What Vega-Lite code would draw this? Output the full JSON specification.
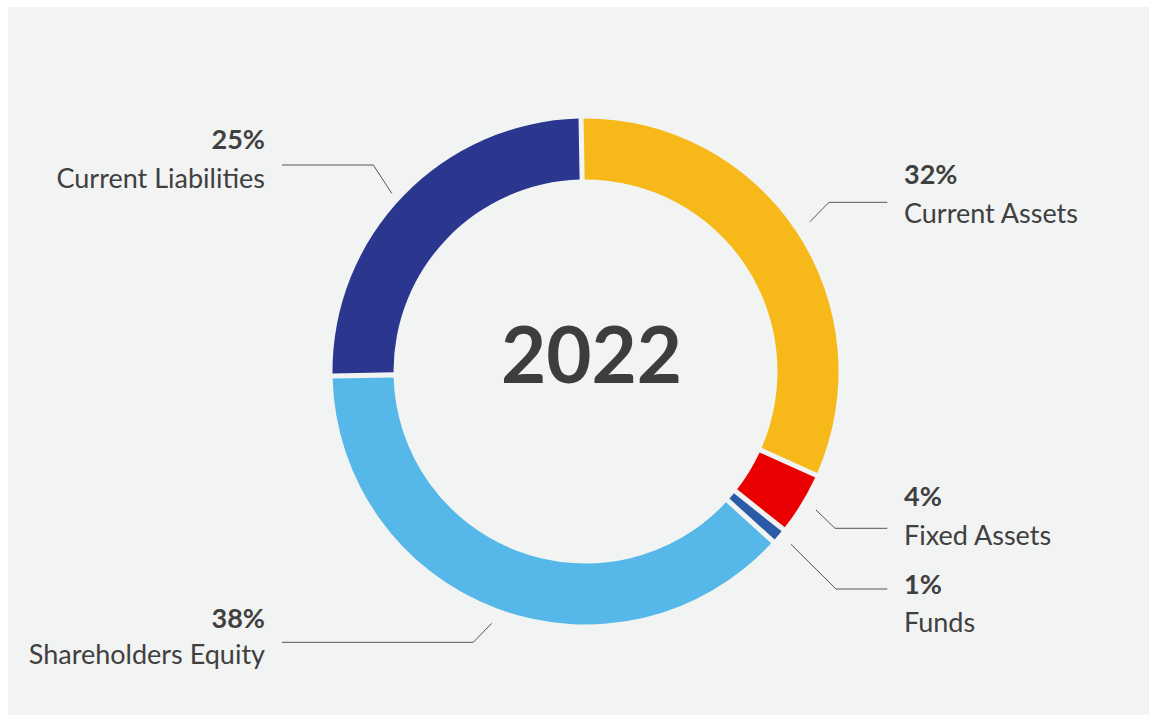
{
  "$schema": "https://vega.github.io/schema/vega-lite/v6.json",
  "width": 1141,
  "height": 708,
  "autosize": {"type": "none"},
  "padding": {"left": 8, "top": 7, "right": 0, "bottom": 0},
  "background": "#ffffff",
  "config": {"view": {"stroke": null, "fill": "#f2f3f3"}},
  "datasets": {
    "segments": [
      {"category": "Current Assets", "value": 32, "order": 1, "pct": "32%", "lx": 318.5, "py": 187.5, "ny": 148.8, "side": "right"},
      {"category": "Fixed Assets", "value": 4, "order": 2, "pct": "4%", "lx": 318.5, "py": -134.2, "ny": -173.5, "side": "right"},
      {"category": "Funds", "value": 1, "order": 3, "pct": "1%", "lx": 318.5, "py": -222.5, "ny": -260.2, "side": "right"},
      {"category": "Shareholders Equity", "value": 38, "order": 4, "pct": "38%", "lx": -320.5, "py": -256.8, "ny": -292.5, "side": "left"},
      {"category": "Current Liabilities", "value": 25, "order": 5, "pct": "25%", "lx": -320.5, "py": 222.5, "ny": 183.5, "side": "left"}
    ],
    "leaders": [
      {"category": "Current Liabilities", "i": 1, "x": -303.5, "y": 206.5},
      {"category": "Current Liabilities", "i": 2, "x": -212.2, "y": 206.5},
      {"category": "Current Liabilities", "i": 3, "x": -193.8, "y": 178.2},
      {"category": "Current Assets", "i": 1, "x": 224.5, "y": 149.8},
      {"category": "Current Assets", "i": 2, "x": 243.5, "y": 169.2},
      {"category": "Current Assets", "i": 3, "x": 301.8, "y": 169.2},
      {"category": "Fixed Assets", "i": 1, "x": 230.5, "y": -138.5},
      {"category": "Fixed Assets", "i": 2, "x": 249.5, "y": -156.8},
      {"category": "Fixed Assets", "i": 3, "x": 301.8, "y": -156.8},
      {"category": "Funds", "i": 1, "x": 205.5, "y": -172.8},
      {"category": "Funds", "i": 2, "x": 250.5, "y": -217.5},
      {"category": "Funds", "i": 3, "x": 301.8, "y": -217.5},
      {"category": "Shareholders Equity", "i": 1, "x": -93.8, "y": -251.8},
      {"category": "Shareholders Equity", "i": 2, "x": -112.2, "y": -270.8},
      {"category": "Shareholders Equity", "i": 3, "x": -303.5, "y": -270.8}
    ],
    "center": [{"year": "2022", "x": 6, "y": -11}]
  },
  "layer": [
    {
      "data": {"name": "segments"},
      "mark": {"type": "arc", "innerRadius": 192, "outerRadius": 253, "padAngle": 0.016},
      "encoding": {
        "x": {"datum": 0, "type": "quantitative", "scale": {"domain": [-577.5, 563.5], "nice": false, "zero": false}, "axis": null},
        "y": {"datum": 0, "type": "quantitative", "scale": {"domain": [-343.5, 364.5], "nice": false, "zero": false}, "axis": null},
        "theta": {"field": "value", "type": "quantitative", "stack": true, "scale": {"range": [-0.0175, 6.2657]}},
        "order": {"field": "order", "type": "quantitative", "sort": "ascending"},
        "color": {
          "field": "category", "type": "nominal", "legend": null,
          "scale": {
            "domain": ["Current Assets", "Fixed Assets", "Funds", "Shareholders Equity", "Current Liabilities"],
            "range": ["#f6b919", "#ea0000", "#2b5aa8", "#55b8e8", "#2b378f"]
          }
        }
      }
    },
    {
      "data": {"name": "leaders"},
      "mark": {"type": "line", "color": "#555555", "strokeWidth": 1},
      "encoding": {
        "x": {"field": "x", "type": "quantitative"},
        "y": {"field": "y", "type": "quantitative"},
        "detail": {"field": "category"},
        "order": {"field": "i", "type": "quantitative"}
      }
    },
    {
      "data": {"name": "segments"},
      "transform": [{"filter": "datum.side === 'right'"}],
      "mark": {"type": "text", "font": "Lato", "fontSize": 27, "fontWeight": "bold", "color": "#404040", "baseline": "alphabetic", "align": "left"},
      "encoding": {
        "x": {"field": "lx", "type": "quantitative"},
        "y": {"field": "py", "type": "quantitative"},
        "text": {"field": "pct"}
      }
    },
    {
      "data": {"name": "segments"},
      "transform": [{"filter": "datum.side === 'right'"}],
      "mark": {"type": "text", "font": "Lato", "fontSize": 27, "fontWeight": "normal", "color": "#404040", "baseline": "alphabetic", "align": "left"},
      "encoding": {
        "x": {"field": "lx", "type": "quantitative"},
        "y": {"field": "ny", "type": "quantitative"},
        "text": {"field": "category"}
      }
    },
    {
      "data": {"name": "segments"},
      "transform": [{"filter": "datum.side === 'left'"}],
      "mark": {"type": "text", "font": "Lato", "fontSize": 27, "fontWeight": "bold", "color": "#404040", "baseline": "alphabetic", "align": "right"},
      "encoding": {
        "x": {"field": "lx", "type": "quantitative"},
        "y": {"field": "py", "type": "quantitative"},
        "text": {"field": "pct"}
      }
    },
    {
      "data": {"name": "segments"},
      "transform": [{"filter": "datum.side === 'left'"}],
      "mark": {"type": "text", "font": "Lato", "fontSize": 27, "fontWeight": "normal", "color": "#404040", "baseline": "alphabetic", "align": "right"},
      "encoding": {
        "x": {"field": "lx", "type": "quantitative"},
        "y": {"field": "ny", "type": "quantitative"},
        "text": {"field": "category"}
      }
    },
    {
      "data": {"name": "center"},
      "mark": {"type": "text", "font": "Lato", "fontSize": 78, "fontWeight": "bold", "color": "#3d3d3d", "baseline": "alphabetic", "align": "center"},
      "encoding": {
        "x": {"field": "x", "type": "quantitative"},
        "y": {"field": "y", "type": "quantitative"},
        "text": {"field": "year"}
      }
    }
  ]
}
